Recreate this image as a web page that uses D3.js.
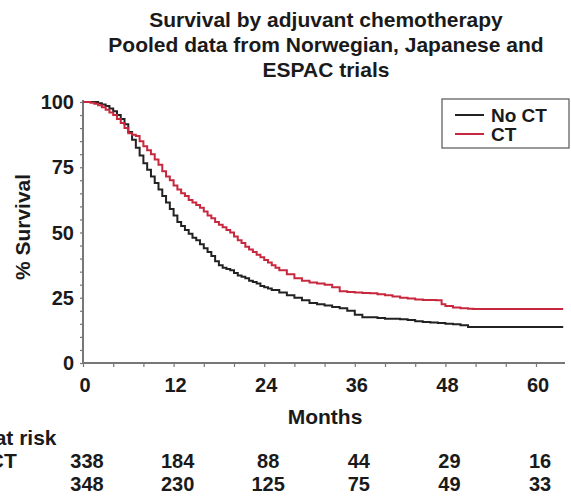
<!DOCTYPE html>
<html><head><meta charset="utf-8">
<script src="https://cdn.jsdelivr.net/npm/d3@7"></script>
<style>body{margin:0;background:#fff;}text{font-family:"Liberation Sans",Arial,sans-serif;font-weight:bold;fill:#1a1a1a;}</style>
</head><body>
<svg id="chart" width="571" height="497"></svg>
<script>
const titleLines = ["Survival by adjuvant chemotherapy","Pooled data from Norwegian, Japanese and","ESPAC trials"];
const seriesNames = ["No CT","CT"];
const xTicks = [0,12,24,36,48,60];
const yTicks = [0,25,50,75,100];
const atRiskLabels = ["No. at risk","No CT","CT"];
const atRiskNoCT = [338,184,88,44,29,16];
const atRiskCT = [348,230,125,75,49,33];

const noCT_t = [0,1.6,2,2.5,3,3.5,4,4.5,5,5.5,6,6.5,7,7.5,8,8.5,9,9.5,10,10.5,11,11.5,12,12.5,13,13.5,14,14.5,15,15.5,16,16.5,17,17.5,18,18.5,19,19.5,20,20.5,21,21.5,22,22.5,23,23.5,24,24.5,25,26,27,28,29,30,31,32,33,34,35,36,37,38,39,40,41,42,43,44,45,46,47,48,49,50,51,63.6];
const noCT_s = [100,100,99.5,99,98.5,97.5,96.5,95,93.5,91.5,88.5,85.5,82.5,79.5,76.5,74,71.5,69,66.5,64,61.5,59,56.5,54,52.5,51,49.5,48,47,45.5,44,42.5,41,39,37.5,36.5,36,35.5,34.5,33.5,33,32.5,31.5,31,30.5,29.5,29,28.5,28,27,26,25,24,23,22.5,22,21.5,21,20,18.5,17.5,17.5,17.2,17,17,16.8,16.5,16,15.7,15.5,15.3,15,14.8,14.5,13.8,13.8];
const ct_t = [0,0.7,1,1.5,2,2.5,3,3.5,4,4.5,5,5.5,6,6.5,7,7.5,8,8.5,9,9.5,10,10.5,11,11.5,12,12.5,13,13.5,14,14.5,15,15.5,16,16.5,17,17.5,18,18.5,19,19.5,20,20.5,21,21.5,22,22.5,23,23.5,24,24.5,25,25.5,26,27,28,29,30,31,32,33,34,35,36,37,38,39,40,41,42,43,44,45,46,46.8,47.5,48,49,50,51,51.7,63.6];
const ct_s = [100,100,99.7,99.3,98.8,98,97,96,95,93.5,92,90,88,87.5,87,85,83,81.5,80,78,76,73.5,71.5,70,68,66.5,65,64,62.5,61.5,60.5,59.5,58,56.5,55.5,54,53,52,51,50,48.5,47,46,44.5,43.5,42.5,41.5,40.5,39.5,38.5,37.5,36.5,35.5,34,32.5,31.5,30.8,30.5,30,29,27.5,27.2,27,26.8,26.7,26.3,26,25.5,25,24.7,24.3,24.1,24.1,24,22.5,21.8,21.3,21,20.8,20.7,20.7];

const colors = ["#222222","#c8283e"];
const svg = d3.select("#chart");
const x = d3.scaleLinear().domain([0,60]).range([83,536]);
const y = d3.scaleLinear().domain([0,100]).range([363,102]);

// title
svg.append("g").selectAll("text").data(titleLines).join("text")
  .attr("x",326).attr("y",(d,i)=>27+i*25).attr("text-anchor","middle")
  .style("font-size","21px").text(d=>d);

// axes
const axisColor="#777";
const yAxis = svg.append("g").attr("transform","translate(83,0)")
  .call(d3.axisLeft(y).tickValues(d3.range(0,101,5)).tickSize(3).tickFormat(""));
const xAxis = svg.append("g").attr("transform","translate(0,363)")
  .call(d3.axisBottom(x).tickValues(d3.range(0,64,4)).tickSize(4).tickFormat(""));
[yAxis,xAxis].forEach(a=>{a.select(".domain").attr("stroke",axisColor).attr("stroke-width",2);a.selectAll(".tick line").attr("stroke",axisColor).attr("stroke-width",1.2);});
xAxis.select(".domain").attr("d","M83,0H565");
yAxis.select(".domain").attr("d","M0,100V363");

svg.append("g").selectAll("text").data(yTicks).join("text")
  .attr("x",74).attr("y",d=>y(d)).attr("dy","0.35em").attr("text-anchor","end")
  .style("font-size","20px").text(d=>d);
svg.append("g").selectAll("text").data(xTicks).join("text")
  .attr("x",d=>x(d)+2).attr("y",392).attr("text-anchor","middle")
  .style("font-size","20px").text(d=>d);

svg.append("text").attr("transform","translate(30,227) rotate(-90)").attr("text-anchor","middle")
  .style("font-size","21px").text("% Survival");
svg.append("text").attr("x",325).attr("y",424).attr("text-anchor","middle")
  .style("font-size","21px").text("Months");

// curves
const line = d3.line().curve(d3.curveStepAfter).x(d=>x(d[0])).y(d=>y(d[1]));
const series = [d3.zip(noCT_t,noCT_s), d3.zip(ct_t,ct_s)];
svg.append("g").selectAll("path").data(series).join("path")
  .attr("d",line).attr("fill","none").attr("stroke",(d,i)=>colors[i]).attr("stroke-width",2);

// legend
const lg = svg.append("g");
lg.append("rect").attr("x",442).attr("y",99).attr("width",127).attr("height",49)
  .attr("fill","#fff").attr("stroke","#555").attr("stroke-width",1.2);
seriesNames.forEach((n,i)=>{
  const yy = 115+i*19;
  lg.append("line").attr("x1",455).attr("x2",484).attr("y1",yy).attr("y2",yy).attr("stroke",colors[i]).attr("stroke-width",2);
  lg.append("text").attr("x",491).attr("y",yy).attr("dy","0.36em").style("font-size","19px").text(n);
});

// at risk table
svg.append("g").selectAll("text").data(atRiskLabels).join("text")
  .attr("x",-45).attr("y",(d,i)=>445+i*23).style("font-size","21px").text(d=>d);
[atRiskNoCT,atRiskCT].forEach((arr,r)=>{
  svg.append("g").selectAll("text").data(arr).join("text")
    .attr("x",(d,i)=>x(xTicks[i])+4).attr("y",468+r*23).attr("text-anchor","middle")
    .style("font-size","20px").text(d=>d);
});
</script>
</body></html>
